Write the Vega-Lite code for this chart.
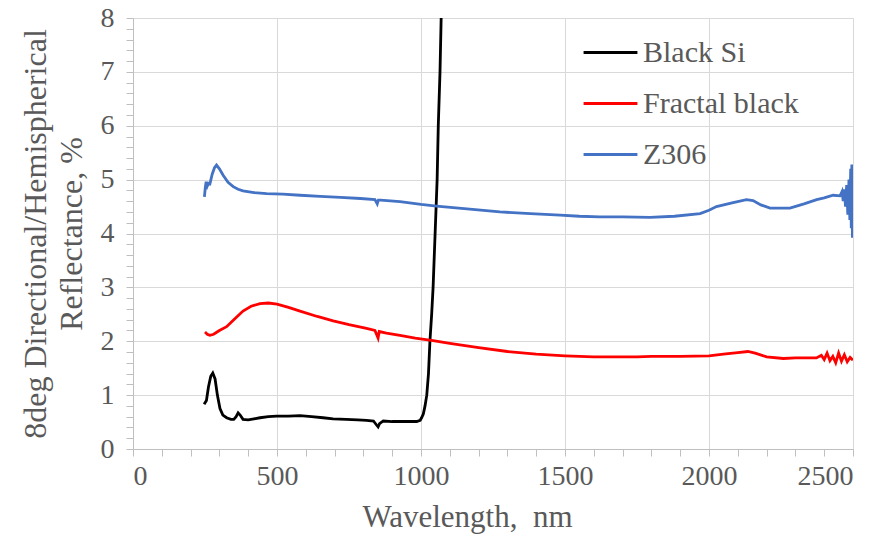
{
  "$schema": "https://vega.github.io/schema/vega-lite/v6.json",
  "autosize": {"type": "none"},
  "width": 720,
  "height": 431,
  "padding": {"left": 133, "top": 18, "right": 37, "bottom": 102},
  "background": "white",
  "config": {
    "view": {"stroke": null},
    "font": "Liberation Serif",
    "axis": {"labelFont": "Liberation Serif", "titleFont": "Liberation Serif"},
    "legend": {"labelFont": "Liberation Serif"}
  },
  "data": {"values": [
    {"s":"Black Si","wl":247,"r":0.83},{"s":"Black Si","wl":255,"r":0.9},{"s":"Black Si","wl":262,"r":1.15},{"s":"Black Si","wl":270,"r":1.35},{"s":"Black Si","wl":277,"r":1.41},{"s":"Black Si","wl":285,"r":1.3},{"s":"Black Si","wl":293,"r":1.0},{"s":"Black Si","wl":302,"r":0.75},{"s":"Black Si","wl":312,"r":0.63},{"s":"Black Si","wl":325,"r":0.58},{"s":"Black Si","wl":340,"r":0.55},{"s":"Black Si","wl":350,"r":0.55},{"s":"Black Si","wl":358,"r":0.6},{"s":"Black Si","wl":365,"r":0.67},{"s":"Black Si","wl":372,"r":0.63},{"s":"Black Si","wl":382,"r":0.55},{"s":"Black Si","wl":400,"r":0.54},{"s":"Black Si","wl":420,"r":0.56},{"s":"Black Si","wl":441,"r":0.58},{"s":"Black Si","wl":470,"r":0.6},{"s":"Black Si","wl":499,"r":0.61},{"s":"Black Si","wl":540,"r":0.61},{"s":"Black Si","wl":580,"r":0.62},{"s":"Black Si","wl":620,"r":0.6},{"s":"Black Si","wl":660,"r":0.58},{"s":"Black Si","wl":695,"r":0.56},{"s":"Black Si","wl":740,"r":0.55},{"s":"Black Si","wl":780,"r":0.54},{"s":"Black Si","wl":811,"r":0.53},{"s":"Black Si","wl":835,"r":0.52},{"s":"Black Si","wl":845,"r":0.45},{"s":"Black Si","wl":851,"r":0.41},{"s":"Black Si","wl":856,"r":0.47},{"s":"Black Si","wl":869,"r":0.52},{"s":"Black Si","wl":900,"r":0.51},{"s":"Black Si","wl":950,"r":0.51},{"s":"Black Si","wl":985,"r":0.51},{"s":"Black Si","wl":997,"r":0.53},{"s":"Black Si","wl":1002,"r":0.58},{"s":"Black Si","wl":1008,"r":0.65},{"s":"Black Si","wl":1014,"r":0.8},{"s":"Black Si","wl":1020,"r":1.0},{"s":"Black Si","wl":1026,"r":1.4},{"s":"Black Si","wl":1031,"r":2.0},{"s":"Black Si","wl":1037,"r":2.5},{"s":"Black Si","wl":1042,"r":3.0},{"s":"Black Si","wl":1049,"r":4.0},{"s":"Black Si","wl":1056,"r":5.0},{"s":"Black Si","wl":1060,"r":6.0},{"s":"Black Si","wl":1066,"r":7.0},{"s":"Black Si","wl":1070,"r":8.0},
    {"s":"Fractal black","wl":250,"r":2.17},{"s":"Fractal black","wl":258,"r":2.13},{"s":"Fractal black","wl":267,"r":2.11},{"s":"Fractal black","wl":280,"r":2.13},{"s":"Fractal black","wl":300,"r":2.2},{"s":"Fractal black","wl":325,"r":2.27},{"s":"Fractal black","wl":350,"r":2.4},{"s":"Fractal black","wl":382,"r":2.56},{"s":"Fractal black","wl":410,"r":2.65},{"s":"Fractal black","wl":441,"r":2.7},{"s":"Fractal black","wl":470,"r":2.71},{"s":"Fractal black","wl":500,"r":2.69},{"s":"Fractal black","wl":540,"r":2.63},{"s":"Fractal black","wl":580,"r":2.56},{"s":"Fractal black","wl":640,"r":2.46},{"s":"Fractal black","wl":695,"r":2.38},{"s":"Fractal black","wl":750,"r":2.31},{"s":"Fractal black","wl":811,"r":2.24},{"s":"Fractal black","wl":840,"r":2.2},{"s":"Fractal black","wl":848,"r":2.1},{"s":"Fractal black","wl":851,"r":2.06},{"s":"Fractal black","wl":855,"r":2.18},{"s":"Fractal black","wl":880,"r":2.15},{"s":"Fractal black","wl":927,"r":2.11},{"s":"Fractal black","wl":980,"r":2.06},{"s":"Fractal black","wl":1042,"r":2.01},{"s":"Fractal black","wl":1100,"r":1.96},{"s":"Fractal black","wl":1200,"r":1.88},{"s":"Fractal black","wl":1300,"r":1.81},{"s":"Fractal black","wl":1400,"r":1.76},{"s":"Fractal black","wl":1500,"r":1.73},{"s":"Fractal black","wl":1600,"r":1.71},{"s":"Fractal black","wl":1680,"r":1.71},{"s":"Fractal black","wl":1750,"r":1.71},{"s":"Fractal black","wl":1800,"r":1.72},{"s":"Fractal black","wl":1900,"r":1.72},{"s":"Fractal black","wl":2000,"r":1.73},{"s":"Fractal black","wl":2050,"r":1.76},{"s":"Fractal black","wl":2100,"r":1.79},{"s":"Fractal black","wl":2135,"r":1.81},{"s":"Fractal black","wl":2160,"r":1.78},{"s":"Fractal black","wl":2200,"r":1.71},{"s":"Fractal black","wl":2258,"r":1.68},{"s":"Fractal black","wl":2300,"r":1.69},{"s":"Fractal black","wl":2340,"r":1.69},{"s":"Fractal black","wl":2373,"r":1.69},{"s":"Fractal black","wl":2390,"r":1.74},{"s":"Fractal black","wl":2400,"r":1.66},{"s":"Fractal black","wl":2410,"r":1.78},{"s":"Fractal black","wl":2420,"r":1.64},{"s":"Fractal black","wl":2430,"r":1.72},{"s":"Fractal black","wl":2440,"r":1.6},{"s":"Fractal black","wl":2450,"r":1.78},{"s":"Fractal black","wl":2460,"r":1.63},{"s":"Fractal black","wl":2470,"r":1.75},{"s":"Fractal black","wl":2480,"r":1.62},{"s":"Fractal black","wl":2490,"r":1.7},{"s":"Fractal black","wl":2500,"r":1.65},
    {"s":"Z306","wl":248,"r":4.68},{"s":"Z306","wl":251,"r":4.85},{"s":"Z306","wl":254,"r":4.96},{"s":"Z306","wl":258,"r":4.88},{"s":"Z306","wl":262,"r":4.93},{"s":"Z306","wl":267,"r":4.92},{"s":"Z306","wl":275,"r":5.1},{"s":"Z306","wl":283,"r":5.22},{"s":"Z306","wl":290,"r":5.27},{"s":"Z306","wl":300,"r":5.2},{"s":"Z306","wl":313,"r":5.08},{"s":"Z306","wl":330,"r":4.95},{"s":"Z306","wl":348,"r":4.87},{"s":"Z306","wl":365,"r":4.82},{"s":"Z306","wl":382,"r":4.79},{"s":"Z306","wl":420,"r":4.76},{"s":"Z306","wl":464,"r":4.74},{"s":"Z306","wl":520,"r":4.73},{"s":"Z306","wl":580,"r":4.71},{"s":"Z306","wl":650,"r":4.69},{"s":"Z306","wl":720,"r":4.67},{"s":"Z306","wl":790,"r":4.65},{"s":"Z306","wl":840,"r":4.63},{"s":"Z306","wl":848,"r":4.55},{"s":"Z306","wl":852,"r":4.62},{"s":"Z306","wl":860,"r":4.62},{"s":"Z306","wl":927,"r":4.59},{"s":"Z306","wl":1000,"r":4.54},{"s":"Z306","wl":1054,"r":4.51},{"s":"Z306","wl":1150,"r":4.46},{"s":"Z306","wl":1274,"r":4.4},{"s":"Z306","wl":1380,"r":4.37},{"s":"Z306","wl":1483,"r":4.34},{"s":"Z306","wl":1550,"r":4.32},{"s":"Z306","wl":1621,"r":4.31},{"s":"Z306","wl":1700,"r":4.31},{"s":"Z306","wl":1795,"r":4.3},{"s":"Z306","wl":1880,"r":4.32},{"s":"Z306","wl":1969,"r":4.37},{"s":"Z306","wl":2000,"r":4.43},{"s":"Z306","wl":2026,"r":4.5},{"s":"Z306","wl":2080,"r":4.57},{"s":"Z306","wl":2130,"r":4.63},{"s":"Z306","wl":2153,"r":4.61},{"s":"Z306","wl":2180,"r":4.53},{"s":"Z306","wl":2212,"r":4.47},{"s":"Z306","wl":2250,"r":4.47},{"s":"Z306","wl":2281,"r":4.47},{"s":"Z306","wl":2330,"r":4.55},{"s":"Z306","wl":2374,"r":4.63},{"s":"Z306","wl":2400,"r":4.66},{"s":"Z306","wl":2431,"r":4.71},{"s":"Z306","wl":2455,"r":4.7},{"s":"Z306","wl":2462,"r":4.78},{"s":"Z306","wl":2466,"r":4.6},{"s":"Z306","wl":2470,"r":4.82},{"s":"Z306","wl":2474,"r":4.5},{"s":"Z306","wl":2478,"r":4.9},{"s":"Z306","wl":2482,"r":4.35},{"s":"Z306","wl":2486,"r":5.0},{"s":"Z306","wl":2489,"r":4.25},{"s":"Z306","wl":2492,"r":5.2},{"s":"Z306","wl":2494,"r":4.1},{"s":"Z306","wl":2496,"r":5.28},{"s":"Z306","wl":2498,"r":3.92},{"s":"Z306","wl":2500,"r":4.9}
  ]},
  "mark": {"type": "line", "strokeWidth": 2.8, "clip": true},
  "encoding": {
    "x": {
      "field": "wl", "type": "quantitative",
      "scale": {"domain": [0, 2500], "nice": false},
      "axis": {
        "title": "Wavelength,\u00a0 nm",
        "format": "d",
        "values": [0,100,200,300,400,500,600,700,800,900,1000,1100,1200,1300,1400,1500,1600,1700,1800,1900,2000,2100,2200,2300,2400,2500],
        "labelExpr": "datum.value % 500 === 0 ? datum.label : ''",
        "labelFontSize": 28, "labelColor": "#595959", "labelPadding": 6,
        "labelFont": "Liberation Serif",
        "tickSize": 7, "tickColor": "#bfbfbf",
        "domainColor": "#bfbfbf",
        "grid": true, "gridColor": "#d9d9d9",
        "gridOpacity": {"condition": {"test": "datum.value % 500 === 0", "value": 1}, "value": 0},
        "titleFont": "Liberation Serif", "titleFontSize": 31, "titleFontWeight": "normal",
        "titleColor": "#595959", "titlePadding": 12,
        "titleX": 334, "titleAlign": "center"
      }
    },
    "y": {
      "field": "r", "type": "quantitative",
      "scale": {"domain": [0, 8], "nice": false},
      "axis": {
        "title": ["8deg Directional/Hemispherical", "Reflectance, %"],
        "values": [0,0.2,0.4,0.6,0.8,1,1.2,1.4,1.6,1.8,2,2.2,2.4,2.6,2.8,3,3.2,3.4,3.6,3.8,4,4.2,4.4,4.6,4.8,5,5.2,5.4,5.6,5.8,6,6.2,6.4,6.6,6.8,7,7.2,7.4,7.6,7.8,8],
        "labelExpr": "abs(datum.value - round(datum.value)) < 0.001 ? format(datum.value, 'd') : ''",
        "labelOverlap": false,
        "labelFontSize": 28, "labelColor": "#595959", "labelPadding": 12,
        "labelFont": "Liberation Serif",
        "tickSize": 7, "tickColor": "#bfbfbf",
        "domainColor": "#bfbfbf",
        "grid": true, "gridColor": "#d9d9d9",
        "gridOpacity": {"condition": {"test": "abs(datum.value - round(datum.value)) < 0.001", "value": 1}, "value": 0},
        "titleFont": "Liberation Serif", "titleFontSize": 32, "titleFontWeight": "normal",
        "titleColor": "#595959", "titlePadding": 12, "titleLineHeight": 36
      }
    },
    "color": {
      "field": "s", "type": "nominal",
      "scale": {"domain": ["Black Si", "Fractal black", "Z306"], "range": ["#000000", "#ff0000", "#4472c4"]},
      "legend": {
        "title": null, "orient": "none", "legendX": 449, "legendY": 6,
        "symbolType": "stroke", "symbolSize": 2900, "symbolStrokeWidth": 3,
        "labelFont": "Liberation Serif", "labelFontSize": 30, "labelColor": "#595959",
        "labelOffset": 4, "rowPadding": 7, "labelLimit": 400
      }
    }
  }
}
